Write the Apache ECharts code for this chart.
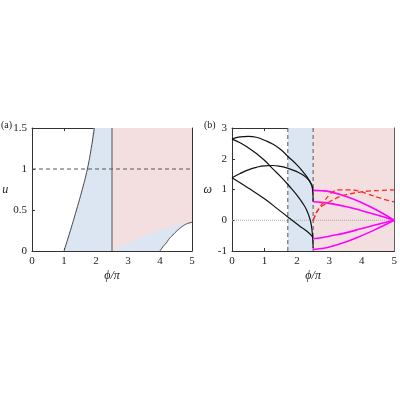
<!DOCTYPE html>
<html><head><meta charset="utf-8">
<script src="https://cdn.jsdelivr.net/npm/echarts@6/dist/echarts.min.js"></script>
<style>html,body{margin:0;padding:0;background:#fff}#c{width:400px;height:400px}</style>
</head><body><div id="c"></div><script>
// ---- axes ----
const xRange = [0, 5];
const uRange = [0, 1.5];
const wRange = [-1, 3];
// ---- panel (a) ----
const aLeftX  = [1.0, 1.2, 1.39, 1.57, 1.73, 1.85, 1.95];
const aLeftU  = [0, 0.25, 0.5, 0.75, 1, 1.25, 1.5];
const aBoundX = [2.5, 2.75, 3, 3.25, 3.5, 3.75, 4, 4.25, 4.5, 4.75, 5];
const aBoundU = [0, 0.05, 0.095, 0.14, 0.18, 0.215, 0.25, 0.28, 0.305, 0.33, 0.35];
const aRightX = [4, 4.1, 4.2, 4.3, 4.4, 4.5, 4.6, 4.7, 4.8, 4.9, 5];
const aRightU = [0, 0.055, 0.1, 0.155, 0.195, 0.235, 0.27, 0.3, 0.325, 0.34, 0.35];
const aSplitX = 2.5;
const aLevelU = 1;
// ---- panel (b) ----
const bBlueRange = [1.72, 2.5];
const bPinkRange = [2.5, 5];
const bBlack1X = [0, 0.25, 0.5, 0.75, 1, 1.25, 1.5, 1.75, 2, 2.2, 2.35, 2.45, 2.49, 2.5];
const bBlack1W = [2.64, 2.71, 2.73, 2.7, 2.6, 2.48, 2.3, 2.05, 1.8, 1.56, 1.35, 1.15, 0.9, 0.6];
const bBlack2X = [0, 0.25, 0.5, 0.75, 1, 1.25, 1.5, 1.75, 2, 2.2, 2.3, 2.4, 2.45, 2.48, 2.5];
const bBlack2W = [2.64, 2.52, 2.36, 2.17, 1.95, 1.68, 1.42, 1.13, 0.82, 0.52, 0.33, 0.05, -0.2, -0.5, -0.9];
const bBlack3X = [0, 0.25, 0.5, 0.75, 1, 1.25, 1.5, 1.75, 2, 2.2, 2.35, 2.45, 2.49, 2.5];
const bBlack3W = [1.38, 1.52, 1.64, 1.72, 1.77, 1.78, 1.75, 1.68, 1.58, 1.46, 1.32, 1.16, 1.05, 0.96];
const bBlack4X = [0, 0.5, 1, 1.45, 1.73, 1.85, 2.1, 2.3, 2.45, 2.5];
const bBlack4W = [1.38, 1.05, 0.7, 0.33, 0.1, 0, -0.2, -0.35, -0.5, -0.58];
const bMagX  = [2.5, 2.75, 3, 3.5, 4, 4.5, 5];
const bMag1W = [0.97, 0.96, 0.93, 0.78, 0.57, 0.31, 0];
const bMag2W = [0.6, 0.58, 0.55, 0.45, 0.31, 0.16, 0];
const bMag3W = [-0.6, -0.57, -0.52, -0.41, -0.27, -0.13, 0];
const bMag4W = [-0.95, -0.92, -0.87, -0.71, -0.5, -0.26, 0];
const bRedAX = [2.5, 2.56, 2.62, 2.72, 2.87, 3.0, 3.12, 3.3, 3.6, 3.9, 4.2, 4.5, 4.8, 5];
const bRedAW = [0, 0.15, 0.28, 0.44, 0.66, 0.82, 0.93, 0.99, 0.99, 0.95, 0.85, 0.74, 0.65, 0.6];
const bRedBX = [2.5, 2.55, 2.6, 2.67, 2.8, 3.0, 3.2, 3.4, 3.7, 3.9, 4.2, 4.6, 5];
const bRedBW = [0, 0.12, 0.25, 0.36, 0.48, 0.6, 0.71, 0.8, 0.87, 0.91, 0.95, 0.97, 0.99];

const zip = (xs, ys) => xs.map((x, i) => [x, ys[i]]);
const BLUE = '#dce6f2', PINK = '#f3dfdf';
const FONT = 'Liberation Serif';

function axis(grid, pos, range, interval, showLabel, name, nameGap) {
  return {
    type: 'value', gridIndex: grid, position: pos, min: range[0], max: range[1], interval: interval,
    axisLine: {show: true, onZero: false, lineStyle: {color: '#333', width: 1}},
    axisTick: {show: true, inside: true, length: 3, lineStyle: {color: '#333'}},
    splitLine: {show: false},
    axisLabel: {show: showLabel, fontFamily: FONT, fontSize: 11, color: '#222', margin: 5},
    name: name || '', nameLocation: 'middle', nameGap: nameGap || 0, nameRotate: 0,
    nameTextStyle: {fontFamily: FONT, fontStyle: 'italic', fontSize: 12, color: '#222'}
  };
}
function line(xi, yi, data, color, width, type, z, smooth) {
  return {
    type: 'line', xAxisIndex: xi, yAxisIndex: yi, data: data, symbol: 'none', silent: true,
    smooth: smooth === undefined ? 0.5 : smooth,
    lineStyle: {color: color, width: width, type: type || 'solid'}, z: z
  };
}
function area(xi, yi, data, color, z, origin, smooth) {
  return {
    type: 'line', xAxisIndex: xi, yAxisIndex: yi, data: data, symbol: 'none', silent: true,
    smooth: smooth === undefined ? 0.5 : smooth,
    lineStyle: {width: 0, opacity: 0}, areaStyle: {color: color, opacity: 1, origin: origin || 'auto'}, z: z
  };
}

const series = [
  // panel (a)
  area(0, 0, [[aSplitX, uRange[1]], [xRange[1], uRange[1]]], PINK, 1, 'auto', false),
  area(0, 0, zip(aLeftX, aLeftU).concat([[aSplitX, uRange[1]]]), BLUE, 1),
  area(0, 0, zip(aBoundX, aBoundU), BLUE, 2),
  area(0, 0, zip(aRightX, aRightU), '#ffffff', 3),
  line(0, 0, zip(aRightX, aRightU), '#333', 0.9, 'solid', 5),
  line(0, 0, zip(aLeftX, aLeftU), '#333', 0.9, 'solid', 5),
  line(0, 0, [[aSplitX, uRange[0]], [aSplitX, uRange[1]]], '#555', 1, 'solid', 5, false),
  line(0, 0, [[xRange[0], aLevelU], [xRange[1], aLevelU]], '#555', 1, [4, 3], 6, false),
  // panel (b)
  area(2, 2, [[bBlueRange[0], wRange[1]], [bBlueRange[1], wRange[1]]], BLUE, 1, 'start', false),
  area(2, 2, [[bPinkRange[0], wRange[1]], [bPinkRange[1], wRange[1]]], PINK, 1, 'start', false),
  line(2, 2, [[xRange[0], 0], [xRange[1], 0]], '#aaa', 1, 'dotted', 2, false),
  line(2, 2, [[bBlueRange[0], wRange[0]], [bBlueRange[0], wRange[1]]], '#555', 1, [4, 3], 3, false),
  line(2, 2, [[bBlueRange[1], wRange[0]], [bBlueRange[1], wRange[1]]], '#555', 1, [4, 3], 3, false),
  line(2, 2, zip(bBlack1X, bBlack1W), '#111', 1.2, 'solid', 5),
  line(2, 2, zip(bBlack2X, bBlack2W), '#111', 1.2, 'solid', 5),
  line(2, 2, zip(bBlack3X, bBlack3W), '#111', 1.2, 'solid', 5),
  line(2, 2, zip(bBlack4X, bBlack4W), '#111', 1.2, 'solid', 5),
  line(2, 2, zip(bMagX, bMag1W), '#ff00ff', 1.6, 'solid', 6),
  line(2, 2, zip(bMagX, bMag2W), '#ff00ff', 1.6, 'solid', 6),
  line(2, 2, zip(bMagX, bMag3W), '#ff00ff', 1.6, 'solid', 6),
  line(2, 2, zip(bMagX, bMag4W), '#ff00ff', 1.6, 'solid', 6),
  line(2, 2, zip(bRedAX, bRedAW), '#ff2a2a', 1.3, [5, 3], 7),
  line(2, 2, zip(bRedBX, bRedBW), '#ff2a2a', 1.3, [5, 3], 7)
];

const chart = echarts.init(document.getElementById('c'), null, {renderer: 'canvas'});
chart.setOption({
  animation: false,
  backgroundColor: '#fff',
  grid: [
    {left: 32, top: 128, width: 160, height: 123},
    {left: 232, top: 128, width: 165, height: 123}
  ],
  xAxis: [
    axis(0, 'bottom', xRange, 1, true, 'ϕ/π', 19),
    axis(0, 'top', xRange, 1, false),
    axis(1, 'bottom', xRange, 1, true, 'ϕ/π', 19),
    axis(1, 'top', xRange, 1, false)
  ],
  yAxis: [
    axis(0, 'left', uRange, 0.5, true, 'u', 18),
    axis(0, 'right', uRange, 0.5, false),
    axis(1, 'left', wRange, 1, true, 'ω', 20),
    axis(1, 'right', wRange, 1, false)
  ],
  graphic: [
    {type: 'text', left: 1, top: 120, style: {text: '(a)', font: '10px "Liberation Serif"', fill: '#222'}},
    {type: 'text', left: 204, top: 120, style: {text: '(b)', font: '10px "Liberation Serif"', fill: '#222'}}
  ],
  series: series
});
</script></body></html>
